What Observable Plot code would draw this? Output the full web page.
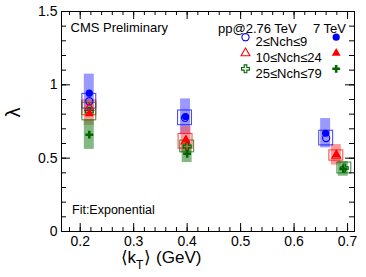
<!DOCTYPE html>
<html><head><meta charset="utf-8">
<script src="https://cdn.jsdelivr.net/npm/d3@7"></script>
<script src="https://cdn.jsdelivr.net/npm/@observablehq/plot@0.6"></script>
<style>body{margin:0;background:#fff} #chart{width:366px;height:277px}</style>
</head><body><div id="chart"></div>
<script>
// ---- data ----
const bins = ["2≤Nch≤9", "10≤Nch≤24", "25≤Nch≤79"];
// pp @ 2.76 TeV (open markers, open boxes = syst.)
const kT276_1 = [0.217, 0.396, 0.660], lam276_1 = [0.888, 0.775, 0.637], sys276_1 = [0.05, 0.05, 0.05];
const kT276_2 = [0.217, 0.397, 0.679], lam276_2 = [0.843, 0.615, 0.518], sys276_2 = [0.05, 0.05, 0.035];
const kT276_3 = [0.217, 0.400, 0.694], lam276_3 = [0.818, 0.580, 0.433], sys276_3 = [0.06, 0.04, 0.037];
// pp @ 7 TeV (filled markers, shaded boxes = syst.)
const kT7_1 = [0.217, 0.397, 0.659], lam7_1 = [0.943, 0.784, 0.670], sys7_1 = [0.13, 0.12, 0.10];
const kT7_2 = [0.217, 0.398, 0.679], lam7_2 = [0.804, 0.625, 0.523], sys7_2 = [0.08, 0.09, 0.07];
const kT7_3 = [0.217, 0.400, 0.692], lam7_3 = [0.660, 0.530, 0.427], sys7_3 = [0.10, 0.06, 0.05];
const xTicks = [0.2, 0.3, 0.4, 0.5, 0.6, 0.7];
const yTicks = [0, 0.5, 1, 1.5];
const yTickLabels = ["0", "0.5", "1", "1.5"];
const xTickLabels = ["0.2", "0.3", "0.4", "0.5", "0.6", "0.7"];
const xMinor = d3.range(0.18, 0.711, 0.02);
const yMinor = d3.range(0, 1.51, 0.1);

// ---- styling ----
const colors = ["#0000ff", "#ff0000", "#006600"];
const shade = ["#5555ff", "#ff5555", "#2e8b2e"];
const openSym = ["circle", "triangle", "cross"];
const symR = [3.6, 3.3, 3.3];
const W = 366, H = 277, ML = 61, MR = 12, MT = 11, MB = 46;
const FW = W - ML - MR, FH = H - MT - MB;
const font = "'Liberation Sans', Arial, Helvetica, sans-serif";

const rows = (kT, lam, sys) => kT.map((k, i) => ({kT: k, lam: lam[i], sys: sys[i]}));
const d276 = [rows(kT276_1, lam276_1, sys276_1), rows(kT276_2, lam276_2, sys276_2), rows(kT276_3, lam276_3, sys276_3)];
const d7 = [rows(kT7_1, lam7_1, sys7_1), rows(kT7_2, lam7_2, sys7_2), rows(kT7_3, lam7_3, sys7_3)];

const wShade = 0.0093, wBox = 0.013;
const marks = [];
d7.forEach((d, b) => marks.push(Plot.rect(d, {x1: r => r.kT - wShade, x2: r => r.kT + wShade, y1: r => r.lam - r.sys, y2: r => r.lam + r.sys, fill: shade[b], fillOpacity: 0.6})));
d276.forEach((d, b) => marks.push(Plot.rect(d, {x1: r => r.kT - wBox, x2: r => r.kT + wBox, y1: r => r.lam - r.sys, y2: r => r.lam + r.sys, fill: "none", stroke: colors[b], strokeOpacity: 0.7, strokeWidth: 1.1})));
d276.forEach((d, b) => marks.push(Plot.dot(d, {x: "kT", y: "lam", symbol: openSym[b], r: symR[b], stroke: colors[b], fill: "none", strokeWidth: 1.1})));
d7.forEach((d, b) => marks.push(Plot.dot(d, {x: "kT", y: "lam", symbol: openSym[b], r: symR[b], fill: colors[b], stroke: "none"})));

marks.push(Plot.frame({stroke: "black", strokeWidth: 1}));
marks.push(Plot.tickX(xMinor, {x: d => d, insetTop: FH - 4, stroke: "black"}));
marks.push(Plot.tickX(xMinor, {x: d => d, insetBottom: FH - 4, stroke: "black"}));
marks.push(Plot.tickX(xTicks, {x: d => d, insetTop: FH - 8, stroke: "black"}));
marks.push(Plot.tickX(xTicks, {x: d => d, insetBottom: FH - 8, stroke: "black"}));
marks.push(Plot.tickY(yMinor, {y: d => d, insetRight: FW - 5, stroke: "black"}));
marks.push(Plot.tickY(yMinor, {y: d => d, insetLeft: FW - 5, stroke: "black"}));
marks.push(Plot.tickY(yTicks, {y: d => d, insetRight: FW - 9, stroke: "black"}));
marks.push(Plot.tickY(yTicks, {y: d => d, insetLeft: FW - 9, stroke: "black"}));
marks.push(Plot.axisX(xTicks, {tickSize: 0, tickPadding: 5, fontSize: 14, label: null, tickFormat: (d, i) => xTickLabels[i]}));
marks.push(Plot.axisY(yTicks, {tickSize: 0, tickPadding: 4, fontSize: 14, label: null, tickFormat: (d, i) => yTickLabels[i]}));

marks.push(Plot.text(["CMS Preliminary"], {frameAnchor: "top-left", dx: 9, dy: 11, textAnchor: "start", fontSize: 13}));
marks.push(Plot.text(["Fit:Exponential"], {frameAnchor: "top-left", dx: 10.5, dy: 194, textAnchor: "start", fontSize: 12.5}));
marks.push(Plot.text(["pp@2.76 TeV"], {frameAnchor: "top-left", dx: 156.5, dy: 12, textAnchor: "start", fontSize: 13}));
marks.push(Plot.text(["7 TeV"], {frameAnchor: "top-left", dx: 251.5, dy: 12, textAnchor: "start", fontSize: 13}));
const legY = [25.7, 41.7, 57.3];
bins.forEach((lab, b) => {
  marks.push(Plot.dot([lab], {frameAnchor: "top-left", dx: 184, dy: legY[b], symbol: openSym[b], r: symR[b], stroke: colors[b], fill: "none", strokeWidth: 1.1}));
  marks.push(Plot.text([lab], {frameAnchor: "top-left", dx: 194, dy: legY[b], textAnchor: "start", fontSize: 13}));
  marks.push(Plot.dot([lab], {frameAnchor: "top-left", dx: 274.7, dy: legY[b], symbol: openSym[b], r: symR[b], fill: colors[b], stroke: "none"}));
});
marks.push(Plot.text(["λ"], {frameAnchor: "left", dx: -48, dy: -4, rotate: -90, fontSize: 20}));

const svg = Plot.plot({
  width: W, height: H, marginLeft: ML, marginRight: MR, marginTop: MT, marginBottom: MB,
  x: {domain: [0.165, 0.713]}, y: {domain: [0, 1.5]},
  style: {fontFamily: font, fontSize: "14px", background: "white", color: "black"},
  marks
});
const s = d3.select(svg);
const t = s.append("text").attr("x", 161).attr("y", 263).attr("font-size", 17).attr("font-family", font).attr("fill", "black");
t.append("tspan").text("⟨k");
t.append("tspan").attr("dy", 6).attr("font-size", 12).text("T");
t.append("tspan").attr("dy", -6).attr("dx", 1).text("⟩ (GeV)");
document.getElementById("chart").appendChild(svg);
</script></body></html>
